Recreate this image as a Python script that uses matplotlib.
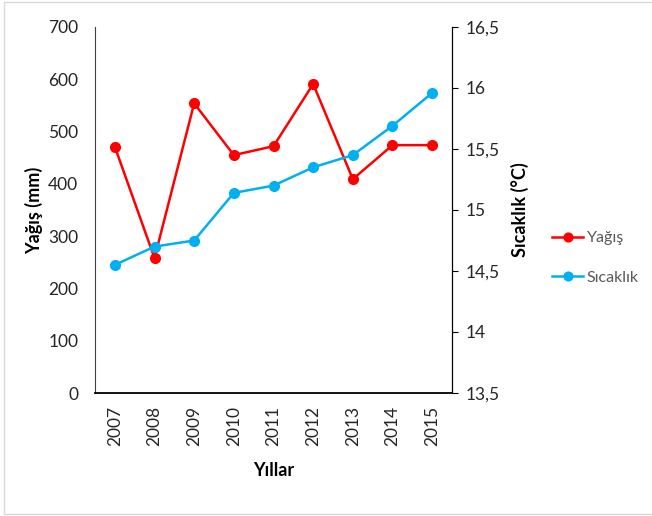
import matplotlib.pyplot as plt
from matplotlib.patches import Rectangle
from matplotlib.ticker import FuncFormatter

plt.rcParams['font.family'] = ['Lato', 'DejaVu Sans']

years = ['2007', '2008', '2009', '2010', '2011', '2012', '2013', '2014', '2015']
yagis = [471, 258, 554, 455, 472, 591, 409, 474, 474]
sicaklik = [14.55, 14.70, 14.75, 15.14, 15.20, 15.35, 15.45, 15.69, 15.96]

red = '#FF0000'
blue = '#00B0F0'

fig = plt.figure(figsize=(6.52, 5.16), dpi=100)
ax = fig.add_axes([95 / 652, 123 / 516, 357 / 652, 366 / 516])
ax2 = ax.twinx()

x = range(len(years))
l1, = ax.plot(x, yagis, color=red, lw=1.8, marker='o', ms=7, label='Yağış')
l2, = ax2.plot(x, sicaklik, color=blue, lw=1.8, marker='o', ms=7, label='Sıcaklık')

ax.set_xlim(-0.5, len(years) - 0.5)
ax.set_ylim(0, 700)
ax.set_yticks(range(0, 701, 100))
ax2.set_ylim(13.5, 16.5)
ax2.set_yticks([13.5, 14, 14.5, 15, 15.5, 16, 16.5])
ax2.yaxis.set_major_formatter(FuncFormatter(lambda v, p: ('%g' % v).replace('.', ',')))

ax.set_xticks(list(x))
ax.set_xticklabels(years, rotation=90, fontsize=12.5, color='#262626')
ax.tick_params(axis='x', length=0, pad=9)
ax.tick_params(axis='y', length=0, labelsize=12.5, labelcolor='#262626', pad=12)
ax2.tick_params(axis='y', length=4, labelsize=12.5, labelcolor='#262626', pad=6)

for a in (ax, ax2):
    a.spines['top'].set_visible(False)
ax.spines['left'].set_color('#404040')
ax.spines['bottom'].set_linewidth(1.3)
ax2.spines['left'].set_visible(False)
ax2.spines['bottom'].set_visible(False)

ax.set_xlabel('Yıllar', fontsize=13, fontweight='bold', labelpad=12)
ax.set_ylabel('Yağış (mm)', fontsize=13, fontweight='bold', labelpad=4)
ax2.set_ylabel('Sıcaklık (°C)', fontsize=13, fontweight='bold', labelpad=8)

leg = fig.legend(handles=[l1, l2], loc='center left', bbox_to_anchor=(538 / 652, 1 - 258 / 516),
                 frameon=False, fontsize=11.5, labelspacing=1.6, handlelength=1.9,
                 handletextpad=0.25, markerscale=0.9)
for t in leg.get_texts():
    t.set_color('#595959')

fig.patches.append(Rectangle((4 / 652, 2 / 516), 1, 512 / 516, transform=fig.transFigure,
                             fill=False, edgecolor='#D9D9D9', lw=1))

fig.savefig('out.png', dpi=100)
